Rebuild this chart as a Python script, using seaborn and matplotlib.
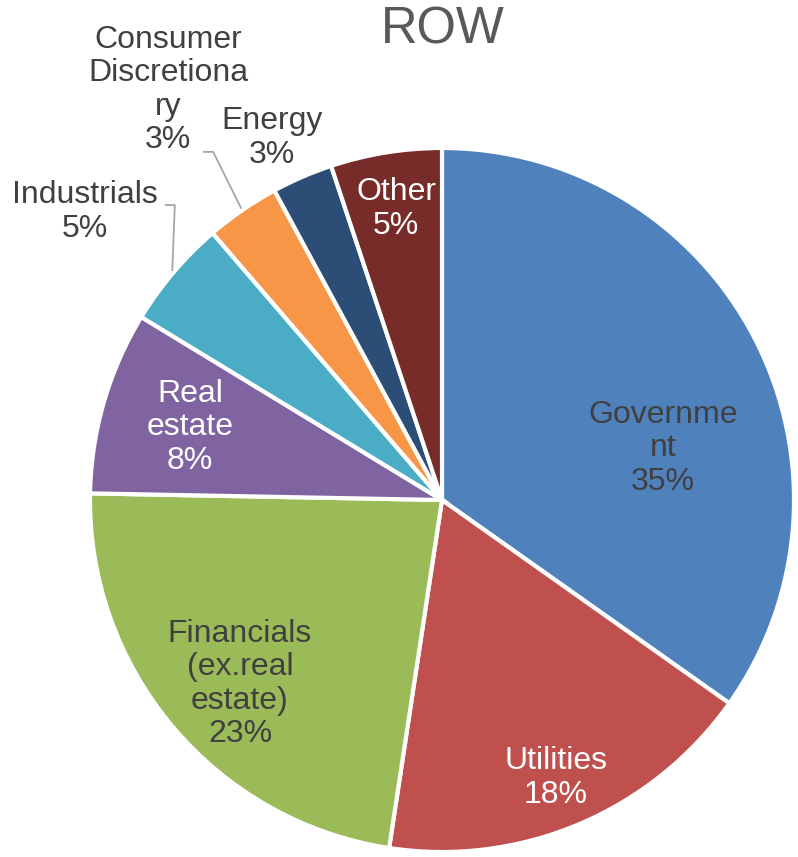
import matplotlib
matplotlib.use("Agg")
import matplotlib.pyplot as plt
import seaborn as sns
import numpy as np

# Sector breakdown, clockwise from 12 o'clock
categories = [
    "Governme\nnt",
    "Utilities",
    "Financials\n(ex.real\nestate)",
    "Real\nestate",
    "Industrials",
    "Consumer\nDiscretiona\nry",
    "Energy",
    "Other",
]
shares = [34.8, 17.6, 22.9, 8.4, 5.0, 3.4, 2.8, 5.1]
colors = ["#4F81BD", "#C0504D", "#9BBB59", "#8064A2",
          "#4BACC6", "#F79646", "#2C4D75", "#772C2A"]
title = "ROW"

# Label placement (unit-radius coordinates) and text colours
label_pos = [(0.628, 0.147), (0.324, -0.790), (-0.574, -0.523), (-0.716, 0.207),
             (-1.014, 0.818), (-0.778, 1.165), (-0.483, 1.028), (-0.130, 0.827)]
label_col = ["#404040", "white", "#404040", "white",
             "#404040", "#404040", "#404040", "white"]
# leader lines: index -> (start point at text, elbow point)
leaders = {4: [(-0.787, 0.838), (-0.759, 0.838)],
           5: [(-0.679, 0.989), (-0.650, 0.989)]}

sns.set_theme(style="white")
plt.rcParams["font.family"] = ["Liberation Sans", "DejaVu Sans"]

W, H, R = 798, 857, 352
cx, cy = 442, 500
fig = plt.figure(figsize=(W / 100, H / 100), dpi=100)
ax = fig.add_axes([0, 0, 1, 1])

palette = sns.color_palette(colors)
wedges, _ = ax.pie(shares, colors=palette, startangle=90, counterclock=False,
                   radius=1.0, center=(0, 0),
                   wedgeprops=dict(edgecolor="white", linewidth=3))

ax.set_xlim(-cx / R, (W - cx) / R)
ax.set_ylim(-(H - cy) / R, cy / R)
ax.set_aspect("equal")
ax.axis("off")

for i, (w, lab, val) in enumerate(zip(wedges, categories, shares)):
    x, y = label_pos[i]
    ax.text(x, y, f"{lab}\n{val:.0f}%", ha="center", va="center",
            fontsize=23, color=label_col[i], linespacing=1.15)
    if i in leaders:
        mid = np.deg2rad((w.theta1 + w.theta2) / 2)
        end = (np.cos(mid) * 1.005, np.sin(mid) * 1.005)
        pts = leaders[i] + [end]
        ax.plot([p[0] for p in pts], [p[1] for p in pts],
                color="#A6A6A6", lw=1.3, solid_capstyle="butt")

fig.text(443 / W, 1 - 30 / H, title, ha="center", va="center",
         fontsize=36.5, color="#595959")

fig.savefig("out.png", dpi=100)
